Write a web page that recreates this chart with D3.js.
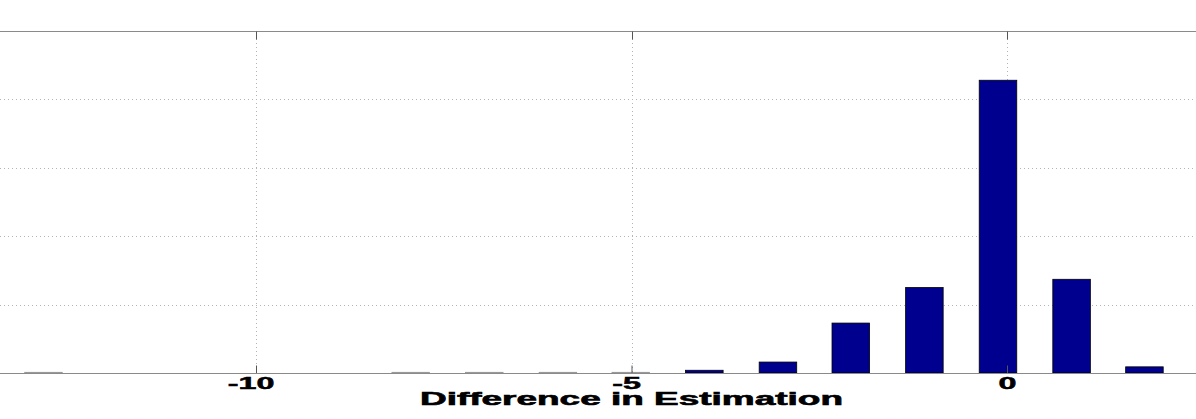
<!DOCTYPE html>
<html>
<head>
<meta charset="utf-8">
<script src="https://cdn.jsdelivr.net/npm/d3@7"></script>
<style>
  body { margin: 0; background: #fff; }
  svg { display: block; }
</style>
</head>
<body>
<div id="chart"></div>
<script>
// bin centres (difference) and counts
var binCenters = [-12.83, -7.94, -6.96, -5.98, -5.01, -4.03, -3.05, -2.08, -1.10, -0.12, 0.86, 1.83];
var counts     = [1, 1, 1, 1, 1, 4, 16, 73, 125, 428, 137, 9];
var xTicks = [-10, -5, 0];
var yTicks = [0, 100, 200, 300, 400, 500];
var barWidth = 0.5;

var width = 1196, height = 419;

var svg = d3.select("#chart")
    .append("svg")
    .attr("width", width)
    .attr("height", height);

// the axes run past the left and right edges of the picture
var x = d3.scaleLinear()
    .domain([-14, 3])
    .range([1007 - 14 * 75.1, 1007 + 3 * 75.1]);

var y = d3.scaleLinear()
    .domain([0, 500])
    .range([373, 31]);

var font = "Liberation Sans, Arial, sans-serif";

// horizontal grid
svg.append("g")
    .selectAll("line")
    .data(yTicks.slice(1, -1))
    .enter()
    .append("line")
    .attr("x1", 0)
    .attr("x2", width)
    .attr("y1", function(d) { return Math.round(y(d)) + 0.5; })
    .attr("y2", function(d) { return Math.round(y(d)) + 0.5; })
    .attr("stroke", "#b5b5b5")
    .attr("stroke-dasharray", "1,3");

// vertical grid
svg.append("g")
    .selectAll("line")
    .data(xTicks)
    .enter()
    .append("line")
    .attr("x1", function(d) { return Math.round(x(d)) + 0.5; })
    .attr("x2", function(d) { return Math.round(x(d)) + 0.5; })
    .attr("y1", y(500))
    .attr("y2", y(0))
    .attr("stroke", "#b5b5b5")
    .attr("stroke-dasharray", "1,3");

// bars
function tiny(i) { return y(0) - y(counts[i]) < 2; }

svg.append("g")
    .selectAll("rect")
    .data(binCenters)
    .enter()
    .append("rect")
    .attr("x", function(d) { return x(d - barWidth / 2); })
    .attr("width", x(barWidth) - x(0))
    .attr("y", function(d, i) { return y(counts[i]); })
    .attr("height", function(d, i) { return y(0) - y(counts[i]); })
    .attr("fill", function(d, i) { return tiny(i) ? "#999" : "#00008f"; })
    .attr("stroke", function(d, i) { return tiny(i) ? "#999" : "#000"; })
    .attr("stroke-width", 0.8);

// bottom axis
var bottomAxis = svg.append("g")
    .attr("transform", "translate(0," + (Math.round(y(0)) + 0.5) + ")")
    .call(d3.axisBottom(x).tickValues(xTicks).tickSize(0).tickFormat(d3.format("d")));
bottomAxis.select(".domain").remove();
bottomAxis.append("line")
    .attr("x1", 0).attr("x2", width)
    .attr("stroke", "#8a8a8a").attr("stroke-width", 1.2);
bottomAxis.selectAll(".tick line").remove();
bottomAxis.selectAll(".tick")
    .append("line")
    .attr("y1", 0).attr("y2", -8)
    .attr("stroke", "#555");
bottomAxis.selectAll(".tick text")
    .attr("dy", 0)
    .attr("y", 15.5)
    .attr("x", function(d) { return d < 0 ? -2.8 : 0; })
    .attr("transform", "scale(1.9,1)")
    .attr("fill", "#000")
    .attr("stroke", "#000")
    .attr("stroke-width", 0.5)
    .attr("font-family", font)
    .attr("font-weight", "bold")
    .attr("font-size", 17)
    .text(function(d) { return d < 0 ? "-" + Math.abs(d) : d; });

// top border with ticks
var topAxis = svg.append("g")
    .attr("transform", "translate(0," + (Math.round(y(500)) + 0.5) + ")");
topAxis.append("line")
    .attr("x1", 0).attr("x2", width)
    .attr("stroke", "#8a8a8a").attr("stroke-width", 1.2);
topAxis.selectAll(".tk")
    .data(xTicks)
    .enter()
    .append("line")
    .attr("x1", function(d) { return Math.round(x(d)) + 0.5; })
    .attr("x2", function(d) { return Math.round(x(d)) + 0.5; })
    .attr("y1", 0).attr("y2", 8)
    .attr("stroke", "#555");

// x label
svg.append("text")
    .attr("x", 420)
    .attr("y", 405)
    .attr("textLength", 423)
    .attr("lengthAdjust", "spacingAndGlyphs")
    .attr("font-family", font)
    .attr("font-weight", "bold")
    .attr("font-size", 18)
    .attr("fill", "#000")
    .attr("stroke", "#000")
    .attr("stroke-width", 0.6)
    .text("Difference in Estimation");
</script>
</body>
</html>
